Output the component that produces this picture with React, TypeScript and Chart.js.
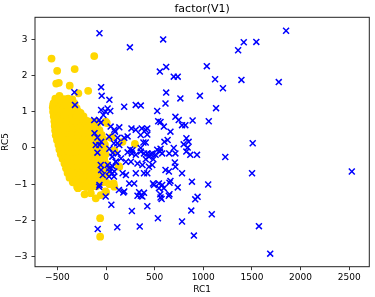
import React, { useEffect, useRef } from 'react';
import { Chart, registerables } from 'chart.js';

Chart.register(...registerables);

const TITLE = 'factor(V1)';
const X_LABEL = 'RC1';
const Y_LABEL = 'RC5';

const xTicks = [-500, 0, 500, 1000, 1500, 2000, 2500];
const yTicks = [-3, -2, -1, 0, 1, 2, 3];
const xRange = [-731, 2707];
const yRange = [-3.28, 3.61];

// level "blue" (x markers)
const bluePoints: [number, number][] = [
  [-68, 3.17], [587, 3.0], [245, 2.78], [1851, 3.24], [1416, 2.92], [1545, 2.93], [1358, 2.70],
  [1036, 2.26], [618, 2.24], [553, 2.11], [696, 1.97], [737, 1.97], [1121, 1.90], [1392, 1.88],
  [1776, 1.82], [1202, 1.65], [-51, 1.68], [618, 1.53], [-45, 1.44], [965, 1.44], [34, 1.33],
  [764, 1.37], [1131, 1.10], [611, 1.23], [186, 1.14], [305, 1.19], [357, 1.17], [526, 1.02],
  [16, 1.09], [43, 1.02], [-51, 1.05], [-4, 1.0], [-28, 0.91], [-326, 1.54], [-320, 1.19],
  [1056, 0.74], [890, 0.76], [713, 0.86], [747, 0.77], [781, 0.63], [815, 0.63], [536, 0.74],
  [560, 0.72], [594, 0.59], [-122, 0.77], [-71, 0.77], [-55, 0.70], [47, 0.59], [85, 0.5],
  [136, 0.57], [261, 0.54], [305, 0.50], [367, 0.54], [407, 0.50], [424, 0.54], [356, 0.36],
  [424, 0.37], [187, 0.28], [221, 0.32], [119, 0.28], [92, 0.45], [31, 0.31], [-89, 0.29],
  [-119, 0.41], [662, 0.45], [600, 0.17], [633, 0.22], [696, 0.0], [798, 0.10], [826, 0.27],
  [849, 0.17], [839, 0.01], [1508, 0.13], [-106, 0.08], [-68, 0.08], [-51, 0.17], [81, 0.13],
  [115, 0.13], [136, 0.08], [384, 0.15], [408, 0.15],
  [-89, -0.13], [119, -0.15], [221, -0.12], [272, -0.06], [306, -0.19], [248, -0.04],
  [265, -0.15], [356, 0.0], [357, -0.1], [390, -0.15], [425, -0.15], [441, -0.24], [459, -0.17],
  [475, -0.15], [486, -0.31], [408, -0.31], [509, -0.19], [526, -0.05], [553, -0.1], [560, -0.02],
  [577, -0.15], [649, -0.15], [713, -0.15], [825, -0.1], [866, -0.19], [935, -0.19], [1226, -0.25],
  [68, -0.14], [34, -0.02], [64, -0.24], [98, -0.38], [153, -0.29], [204, -0.38], [255, -0.38],
  [323, -0.43], [374, -0.47], [441, -0.52], [475, -0.47], [707, -0.40], [713, -0.52], [646, -0.65],
  [611, -0.61], [781, -0.70], [1501, -0.70], [2527, -0.65], [390, -0.70], [424, -0.70], [306, -0.70],
  [204, -0.75], [170, -0.70], [85, -0.65], [68, -0.51], [102, -0.38], [17, -0.47], [34, -0.65],
  [31, -0.56], [31, -0.79], [64, -0.70], [81, -0.79], [-34, -0.75], [-51, -0.61], [-55, -0.47],
  [662, -0.91], [543, -0.98], [577, -1.02], [594, -1.11], [492, -1.02], [883, -0.93], [1050, -1.01],
  [652, -0.96], [483, -0.98], [238, -0.98], [289, -0.98], [-68, -1.02], [-72, -1.07], [132, -1.16],
  [187, -1.2], [177, -1.23], [340, -1.22], [357, -1.32], [373, -1.34], [390, -1.24], [323, -1.32],
  [560, -1.37], [557, -1.28], [544, -1.11], [571, -1.41], [645, -1.32], [652, -1.28], [737, -1.09],
  [941, -1.35], [917, -1.42], [-4, -1.34], [54, -1.57], [265, -1.74], [424, -1.61], [876, -1.73],
  [1087, -1.83], [533, -1.94], [781, -2.03], [-86, -2.24], [115, -2.19], [346, -2.17], [903, -2.42],
  [1572, -2.16], [1688, -2.92],
];

// level "gold" (filled circles)
const goldPoints: [number, number][] = [
  // outliers and edges
  [-561, 2.47], [-122, 2.54], [-503, 2.13], [-323, 2.18], [-513, 1.78], [-486, 1.80], [-374, 1.72],
  [-285, 1.51], [-184, 1.58], [-479, 1.44], [-544, 1.19], [-102, 0.73], [-4, 0.73], [7, 0.69],
  [51, 0.28], [58, 0.30], [169, 0.17], [296, 0.11], [85, -0.07], [129, -0.5], [136, -0.52],
  [34, -1.0], [85, -1.07], [78, -0.98], [0, -1.22], [-7, -1.2], [-55, -1.30], [-106, -1.39],
  [-157, -1.25], [-221, -1.28], [-289, -1.11], [-61, -1.94], [-61, -2.45],
  // dense body
  [-522, 1.36], [-478, 1.38], [-433, 1.35], [-390, 1.36], [-347, 1.34],
  [-540, 1.24], [-500, 1.24], [-455, 1.26], [-412, 1.25], [-368, 1.24], [-325, 1.23],
  [-548, 1.12], [-523, 1.11], [-478, 1.13], [-434, 1.12], [-390, 1.11], [-346, 1.12], [-303, 1.10],
  [-545, 1.00], [-501, 1.01], [-457, 0.99], [-413, 1.00], [-369, 1.01], [-325, 0.99], [-282, 1.00], [-262, 0.97],
  [-538, 0.87], [-522, 0.86], [-478, 0.88], [-434, 0.87], [-390, 0.86], [-347, 0.87], [-303, 0.88], [-260, 0.86], [-232, 0.87],
  [-532, 0.74], [-500, 0.75], [-456, 0.73], [-412, 0.74], [-368, 0.75], [-325, 0.74], [-281, 0.73], [-238, 0.74], [-195, 0.75], [-165, 0.72],
  [-528, 0.61], [-520, 0.62], [-478, 0.60], [-434, 0.61], [-390, 0.62], [-347, 0.61], [-303, 0.60], [-259, 0.61], [-216, 0.62], [-172, 0.61], [-130, 0.60], [-95, 0.62],
  [-524, 0.48], [-500, 0.49], [-456, 0.47], [-412, 0.48], [-368, 0.49], [-325, 0.48], [-281, 0.47], [-238, 0.48], [-194, 0.49], [-150, 0.48], [-107, 0.47], [-68, 0.49],
  [-518, 0.35], [-478, 0.36], [-434, 0.34], [-390, 0.35], [-347, 0.36], [-303, 0.35], [-259, 0.34], [-216, 0.35], [-172, 0.36], [-128, 0.35], [-85, 0.34], [-45, 0.36],
  [-505, 0.22], [-456, 0.23], [-412, 0.21], [-368, 0.22], [-325, 0.23], [-281, 0.22], [-238, 0.21], [-194, 0.22], [-150, 0.23], [-107, 0.22], [-63, 0.21], [-25, 0.23],
  [-490, 0.09], [-478, 0.10], [-434, 0.08], [-390, 0.09], [-347, 0.10], [-303, 0.09], [-259, 0.08], [-216, 0.09], [-172, 0.10], [-128, 0.09], [-85, 0.08], [-42, 0.10], [-12, 0.09],
  [-480, -0.04], [-456, -0.03], [-412, -0.05], [-368, -0.04], [-325, -0.03], [-281, -0.04], [-238, -0.05], [-194, -0.04], [-150, -0.03], [-107, -0.04], [-63, -0.05], [-20, -0.04],
  [-466, -0.17], [-434, -0.16], [-390, -0.18], [-347, -0.17], [-303, -0.16], [-259, -0.17], [-216, -0.18], [-172, -0.17], [-128, -0.16], [-85, -0.17], [-42, -0.18], [-5, -0.17],
  [-448, -0.30], [-412, -0.29], [-368, -0.31], [-325, -0.30], [-281, -0.29], [-238, -0.30], [-194, -0.31], [-150, -0.30], [-107, -0.29], [-63, -0.30], [-20, -0.31],
  [-428, -0.43], [-390, -0.42], [-347, -0.44], [-303, -0.43], [-259, -0.42], [-216, -0.43], [-172, -0.44], [-128, -0.43], [-85, -0.42], [-42, -0.43], [2, -0.44],
  [-412, -0.56], [-368, -0.55], [-325, -0.57], [-281, -0.56], [-238, -0.55], [-194, -0.56], [-150, -0.57], [-107, -0.56], [-63, -0.55], [-20, -0.56],
  [-396, -0.69], [-347, -0.68], [-303, -0.70], [-259, -0.69], [-216, -0.68], [-172, -0.69], [-128, -0.70], [-85, -0.69], [-42, -0.68], [5, -0.69],
  [-376, -0.82], [-325, -0.81], [-281, -0.83], [-238, -0.82], [-194, -0.81], [-150, -0.82], [-107, -0.83], [-63, -0.82], [-20, -0.81],
  [-342, -0.95], [-303, -0.94], [-259, -0.96], [-216, -0.95], [-172, -0.94], [-128, -0.95], [-85, -0.96], [-42, -0.95], [-5, -0.94],
  [-298, -1.07], [-255, -1.06], [-205, -1.08], [-150, -1.07], [-100, -1.06],
];

const FONT = "'DejaVu Sans', sans-serif";
const fmt = (v: number) => (v < 0 ? '\u2212' + Math.abs(v) : String(v));

const framePlugin = {
  id: 'mplFrame',
  afterDraw(chart: any) {
    const { ctx, chartArea: a } = chart;
    ctx.save();
    ctx.strokeStyle = '#222';
    ctx.lineWidth = 1;
    ctx.strokeRect(a.left, a.top, a.right - a.left, a.bottom - a.top);
    ctx.fillStyle = '#000';
    ctx.textAlign = 'center';
    ctx.textBaseline = 'middle';
    ctx.font = `11px ${FONT}`;
    ctx.fillText(TITLE, (a.left + a.right) / 2, 9);
    ctx.font = `9px ${FONT}`;
    ctx.fillText(X_LABEL, (a.left + a.right) / 2, 290);
    ctx.translate(6, (a.top + a.bottom) / 2);
    ctx.rotate(-Math.PI / 2);
    ctx.fillText(Y_LABEL, 0, 0);
    ctx.restore();
  },
};

export default function App() {
  const ref = useRef<HTMLCanvasElement | null>(null);
  useEffect(() => {
    if (!ref.current) return;
    const chart = new Chart(ref.current, {
      type: 'scatter',
      data: {
        datasets: [
          {
            label: 'blue',
            data: bluePoints.map(([x, y]) => ({ x, y })),
            pointStyle: 'crossRot',
            pointRadius: 4.2,
            borderColor: '#0000FF',
            backgroundColor: '#0000FF',
            borderWidth: 1.5,
          },
          {
            label: 'gold',
            data: goldPoints.map(([x, y]) => ({ x, y })),
            pointStyle: 'circle',
            pointRadius: 3.9,
            backgroundColor: '#FFD700',
            borderColor: '#FFD700',
            borderWidth: 0,
          },
        ],
      },
      options: {
        animation: false,
        responsive: true,
        maintainAspectRatio: false,
        layout: { padding: { top: 17.3, right: 2.7, left: 0, bottom: 0 } },
        plugins: { legend: { display: false }, tooltip: { enabled: false }, title: { display: false } },
        scales: {
          x: {
            type: 'linear',
            min: xRange[0],
            max: xRange[1],
            afterBuildTicks: (s: any) => { s.ticks = xTicks.map((v) => ({ value: v })); },
            afterFit: (s: any) => { s.height = 30.3; },
            grid: { drawOnChartArea: false, drawTicks: true, tickLength: 3.5, color: '#222', lineWidth: 0.9 },
            border: { display: false },
            ticks: {
              color: '#000', font: { family: FONT, size: 9 }, padding: 2, maxRotation: 0, autoSkip: false,
              callback: (v: any) => fmt(Number(v)),
            },
          },
          y: {
            type: 'linear',
            min: yRange[0],
            max: yRange[1],
            afterBuildTicks: (s: any) => { s.ticks = yTicks.map((v) => ({ value: v })); },
            afterFit: (s: any) => { s.width = 35; },
            grid: { drawOnChartArea: false, drawTicks: true, tickLength: 3.5, color: '#222', lineWidth: 0.9 },
            border: { display: false },
            ticks: {
              color: '#000', font: { family: FONT, size: 9 }, padding: 4, autoSkip: false,
              callback: (v: any) => fmt(Number(v)),
            },
          },
        },
      },
      plugins: [framePlugin],
    } as any);
    return () => chart.destroy();
  }, []);
  return (
    <div style={{ position: 'fixed', left: 0, top: 0, width: 375, height: 297, background: '#fff' }}>
      <canvas ref={ref} />
    </div>
  );
}
